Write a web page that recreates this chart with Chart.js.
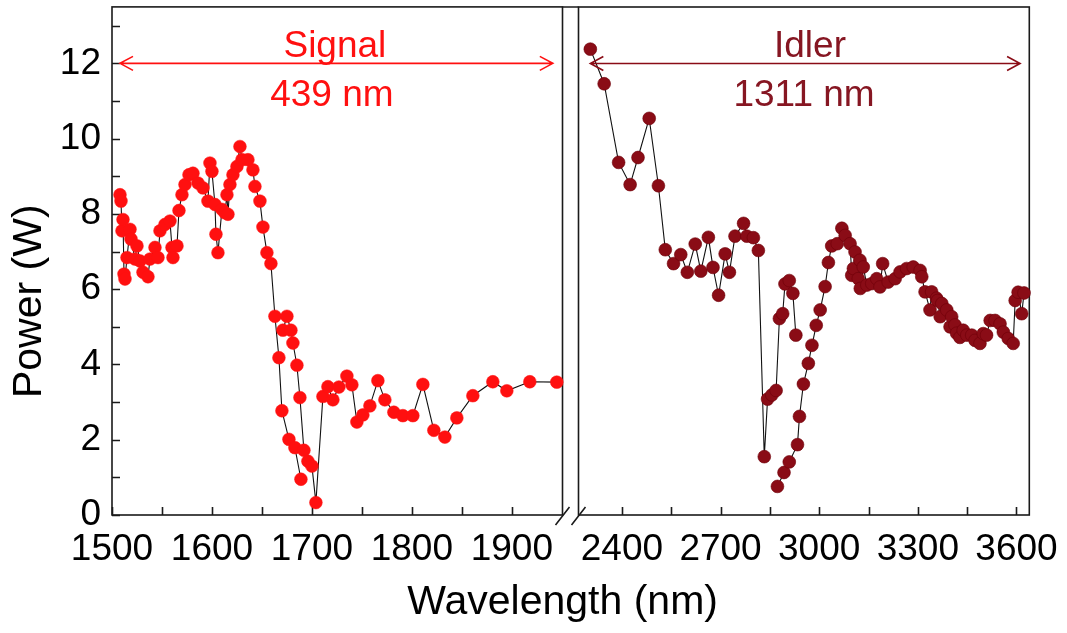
<!DOCTYPE html>
<html><head><meta charset="utf-8">
<script src="https://cdn.jsdelivr.net/npm/chart.js@4.4.0/dist/chart.umd.min.js"></script>
<style>
html,body{margin:0;padding:0;background:#fff;}
#wrap{position:relative;width:1067px;height:633px;background:#fff;}
canvas{position:absolute;left:0;top:0;}
</style></head><body>
<div id="wrap"><canvas id="leftPanel" width="1067" height="633"></canvas><canvas id="rightPanel" width="1067" height="633"></canvas></div>
<script>
// ---- data ----
const signalWavelength = [1508,1509,1510,1511,1512,1513,1515,1518,1519,1523,1525,1528,1531,1536,1538,1543,1546,1548,1553,1558,1560,1561,1565,1567,1570,1573,1577,1581,1586,1591,1596,1598,1600,1603,1604,1606,1610,1613,1615,1616,1618,1621,1625,1628,1630,1636,1641,1643,1648,1651,1655,1659,1663,1667,1670,1677,1683,1689,null,1671,1675,1679,1681,1685,1688,1692,1696,1700,1704,1711,1716,1721,1727,1735,1740,1745,1751,1758,1766,1773,1782,1791,1801,1811,1822,1833,1845,1861,1881,1895,1918,1945];
const signalPower = [8.51,8.34,7.55,7.85,6.40,6.27,6.84,7.59,7.33,6.80,7.15,6.75,6.45,6.33,6.80,7.11,6.84,7.55,7.72,7.81,7.11,6.84,7.15,8.09,8.51,8.78,9.04,9.08,8.82,8.69,8.34,9.35,9.13,8.25,7.46,6.97,8.12,8.03,8.51,7.99,8.78,9.04,9.26,9.79,9.44,9.44,9.17,8.73,8.34,7.65,6.97,6.68,5.28,4.18,2.77,2.01,1.79,0.95,null,4.91,5.28,4.91,4.57,3.98,3.12,1.72,1.43,1.30,0.33,3.15,3.41,3.06,3.40,3.69,3.46,2.47,2.66,2.90,3.57,3.06,2.73,2.64,2.64,3.47,2.25,2.07,2.58,3.17,3.54,3.30,3.54,3.53];
const idlerWavelength = [2304,2346,2390,2425,2449,2483,2511,2532,2557,2579,2599,2623,2640,2663,2677,2694,2714,2727,2744,2770,2780,2800,2815,2833,2843,2856,2869,2879,2889,2896,2909,2920,2929,null,2873,2893,2909,2934,2940,2952,2967,2978,2991,3003,3018,3028,3038,3055,3069,3079,3094,3099,3104,3109,3119,3124,3125,3134,3145,3160,3175,3185,3193,3210,3231,3246,3266,3286,3307,3312,3322,3337,3342,3357,3360,3368,3373,3388,3398,3403,3413,3418,3428,3438,3449,3464,3474,3489,3499,3509,3520,3535,3550,3560,3575,3590,3596,3605,3616,3623];
const idlerPower = [12.38,11.46,9.37,8.78,9.50,10.54,8.75,7.05,6.68,6.92,6.45,7.20,6.48,7.38,6.58,5.84,6.94,6.45,7.41,7.75,7.41,7.37,7.03,1.55,3.08,3.19,3.31,5.22,5.35,6.14,6.23,5.89,4.78,null,0.76,1.13,1.41,1.87,2.62,3.48,4.03,4.51,5.04,5.45,6.07,6.71,7.15,7.21,7.62,7.43,7.21,6.37,6.55,6.99,6.28,6.77,6.02,6.59,6.11,6.15,6.28,6.06,6.68,6.19,6.28,6.46,6.55,6.59,6.50,6.33,5.93,5.45,5.93,5.76,5.70,5.27,5.62,5.45,5.00,5.27,5.05,4.83,4.72,4.91,4.78,4.78,4.64,4.56,4.82,4.78,5.17,5.17,5.08,4.86,4.69,4.56,5.70,5.92,5.35,5.90];

const yTicks = [0,2,4,6,8,10,12];
const yMinorTicks = [1,3,5,7,9,11,13];
const signalTicks = [1500,1600,1700,1800,1900];
const signalMinorTicks = [1550,1650,1750,1850];
const idlerTicks = [2400,2700,3000,3300,3600];
const idlerMinorTicks = [2550,2850,3150,3450];

const signalLabel = 'Signal';
const signalBandwidth = '439 nm';
const idlerLabel = 'Idler';
const idlerBandwidth = '1311 nm';
const xTitle = 'Wavelength (nm)';
const yTitle = 'Power (W)';

// ---- styles ----
const FONT = '"Liberation Sans", Arial, sans-serif';
const FS = 37;
const TITLE_FS = 41;
const AXIS = '#1a1a1a';
const SIGNAL_COLOR = '#ff1010';
const IDLER_COLOR = '#8a0c16';
const IDLER_TEXT = '#861622';

function toPoints(xs, ys){ return xs.map((x,i)=>({x: x, y: ys[i]})); }

function frameTicks(xMinor, drawY){
  return {
    id: 'frameTicks',
    beforeDatasetsDraw(chart){
      const {ctx, chartArea:a, scales:{x,y}} = chart;
      ctx.save();
      ctx.strokeStyle = AXIS; ctx.lineWidth = 1.6;
      ctx.strokeRect(a.left, a.top, a.right-a.left, a.bottom-a.top);
      ctx.beginPath();
      const tl = 8;
      x.ticks.map(t=>t.value).concat(xMinor).forEach(v=>{
        const p = Math.round(x.getPixelForValue(v))+0.5;
        ctx.moveTo(p, a.bottom); ctx.lineTo(p, a.bottom-tl);
      });
      if (drawY){
        y.ticks.map(t=>t.value).concat(yMinorTicks).forEach(v=>{
          const p = Math.round(y.getPixelForValue(v))+0.5;
          ctx.moveTo(a.left, p); ctx.lineTo(a.left+tl, p);
        });
      }
      ctx.stroke();
      ctx.restore();
    }
  };
}

function drawArrow(ctx, x1, x2, y, color){
  ctx.save();
  ctx.strokeStyle = color; ctx.lineWidth = 1.6;
  ctx.beginPath();
  ctx.moveTo(x1, y); ctx.lineTo(x2, y);
  ctx.moveTo(x1+13, y-7); ctx.lineTo(x1, y); ctx.lineTo(x1+13, y+7);
  ctx.moveTo(x2-13, y-7); ctx.lineTo(x2, y); ctx.lineTo(x2-13, y+7);
  ctx.stroke();
  ctx.restore();
}

function drawText(ctx, text, x, y, color, rot, size){
  ctx.save();
  ctx.fillStyle = color;
  ctx.font = (size || FS) + 'px ' + FONT;
  ctx.textAlign = 'center'; ctx.textBaseline = 'middle';
  ctx.translate(x, y);
  if (rot) ctx.rotate(rot);
  ctx.fillText(text, 0, 0);
  ctx.restore();
}

const signalAnnot = {
  id: 'signalAnnot',
  afterDraw(chart){
    const {ctx, scales:{x,y}, chartArea:a} = chart;
    drawArrow(ctx, x.getPixelForValue(1508), x.getPixelForValue(1941), y.getPixelForValue(12), SIGNAL_COLOR);
    drawText(ctx, signalLabel, x.getPixelForValue(1723), y.getPixelForValue(12.45), SIGNAL_COLOR);
    drawText(ctx, signalBandwidth, x.getPixelForValue(1720), y.getPixelForValue(11.13), SIGNAL_COLOR);
    drawText(ctx, yTitle, a.left-82, y.getPixelForValue(5.68), '#000', -Math.PI/2, TITLE_FS);
  }
};

let leftChart;
const idlerAnnot = {
  id: 'idlerAnnot',
  afterDraw(chart){
    const {ctx, scales:{x,y}, chartArea:a} = chart;
    drawArrow(ctx, x.getPixelForValue(2304), x.getPixelForValue(3611), y.getPixelForValue(12), IDLER_COLOR);
    drawText(ctx, idlerLabel, x.getPixelForValue(2972), y.getPixelForValue(12.45), IDLER_TEXT);
    drawText(ctx, idlerBandwidth, x.getPixelForValue(2954), y.getPixelForValue(11.13), IDLER_TEXT);
    const L = leftChart.chartArea;
    ctx.save();
    ctx.strokeStyle = AXIS; ctx.lineWidth = 1.6;
    ctx.beginPath();
    ctx.moveTo(L.right, a.top); ctx.lineTo(a.left, a.top);
    [L.right, a.left].forEach(cx=>{
      ctx.moveTo(cx-7, a.bottom+10); ctx.lineTo(cx+7, a.bottom-8);
    });
    ctx.stroke();
    ctx.restore();
    drawText(ctx, xTitle, (L.left + a.right)/2 - 8, a.bottom + 88, '#000', 0, TITLE_FS);
  }
};

const tickFont = {family: FONT, size: FS};

function baseOptions(xmin, xmax, xticks, showY){
  return {
    responsive: false,
    animation: false,
    devicePixelRatio: 1,
    plugins: {legend:{display:false}, tooltip:{enabled:false}},
    events: [],
    scales: {
      x: {
        type: 'linear', min: xmin, max: xmax,
        afterBuildTicks: s => { s.ticks = xticks.map(v=>({value:v})); },
        afterFit: s => { s.height = 118; s.paddingLeft = 0; s.paddingRight = 0; s.paddingTop = 0; s.paddingBottom = 0; },
        grid: {display:false, drawTicks:false},
        border: {display:false},
        ticks: {font: tickFont, color:'#000', padding: 13, maxRotation:0, minRotation:0, autoSkip:false,
                callback: v => String(v)}
      },
      y: {
        type: 'linear', min: 0, max: 13.5, display: showY,
        afterBuildTicks: s => { s.ticks = yTicks.map(v=>({value:v})); },
        afterFit: s => { s.width = showY ? 112 : 0; s.paddingTop = 0; s.paddingBottom = 0; s.paddingLeft = 0; s.paddingRight = 0; },
        grid: {display:false, drawTicks:false},
        border: {display:false},
        ticks: {font: tickFont, color:'#000', padding: 11, callback: v => String(v)}
      }
    }
  };
}

const leftOpts = baseOptions(1500, 1950.7, signalTicks, true);
leftOpts.layout = {padding: {left:0, right: 1067-562.5, top: 4, bottom: 0}};
leftChart = new Chart(document.getElementById('leftPanel'), {
  type: 'line',
  data: {datasets: [{
    data: toPoints(signalWavelength, signalPower),
    borderColor: '#111', borderWidth: 1.1,
    pointRadius: 6.4, pointBackgroundColor: SIGNAL_COLOR, pointBorderColor: SIGNAL_COLOR, pointBorderWidth: 0.5,
    spanGaps: false, tension: 0, clip: 8
  }]},
  options: leftOpts,
  plugins: [frameTicks(signalMinorTicks, true), signalAnnot]
});

const rightOpts = baseOptions(2268, 3639, idlerTicks, false);
rightOpts.layout = {padding: {left: 578.5, right: 1067-1029.3, top: 4, bottom: 0}};
new Chart(document.getElementById('rightPanel'), {
  type: 'line',
  data: {datasets: [{
    data: toPoints(idlerWavelength, idlerPower),
    borderColor: '#111', borderWidth: 1.1,
    pointRadius: 6.4, pointBackgroundColor: IDLER_COLOR, pointBorderColor: '#6e0008', pointBorderWidth: 0.6,
    spanGaps: false, tension: 0, clip: 8
  }]},
  options: rightOpts,
  plugins: [frameTicks(idlerMinorTicks, false), idlerAnnot]
});
</script>
</body></html>
